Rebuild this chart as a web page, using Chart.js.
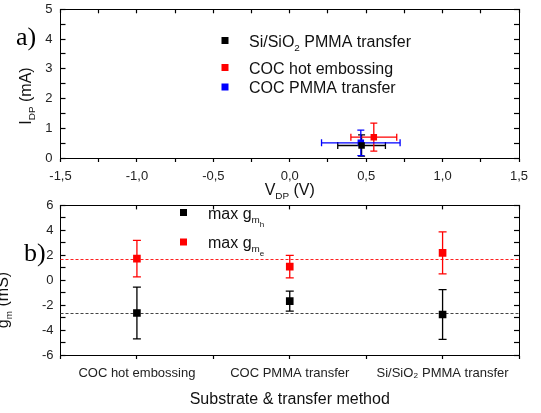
<!DOCTYPE html>
<html>
<head>
<meta charset="utf-8">
<script src="https://cdn.jsdelivr.net/npm/chart.js@4.4.1/dist/chart.umd.min.js"></script>
<style>
  body { margin: 0; background: #fff; width: 541px; height: 413px; overflow: hidden; position: relative; }
  canvas { position: absolute; left: 0; }
  #chartA { top: 0; }
  #chartB { top: 200px; }
</style>
</head>
<body>
<canvas id="chartA" width="541" height="200"></canvas>
<canvas id="chartB" width="541" height="213"></canvas>
<script>
// ---- panel a): Dirac point position ----
const seriesA = ['Si/SiO2 PMMA transfer', 'COC hot embossing', 'COC PMMA transfer'];
const colorsA = ['#000000', '#ff0000', '#0000ff'];
const vdp = [0.47, 0.55, 0.465];      // V
const vdpErr = [0.156, 0.15, 0.257];
const idp = [0.42, 0.70, 0.51];       // mA
const idpErr = [0.36, 0.47, 0.43];
const xTicksA = [-1.5, -1.0, -0.5, 0.0, 0.5, 1.0, 1.5];
const yTicksA = [0, 1, 2, 3, 4, 5];

// ---- panel b): max transconductance per substrate ----
const categories = ['COC hot embossing', 'COC PMMA transfer', 'Si/SiO\u2082 PMMA transfer'];
const gmH = [-2.63, -1.68, -2.75];    // mS (holes)
const gmHErr = [2.07, 0.8, 2.0];
const gmE = [1.73, 1.09, 2.19];       // mS (electrons)
const gmEErr = [1.47, 0.9, 1.68];
const gmMeans = [1.71, -2.67];        // dotted guide lines: e, h
const yTicksB = [-6, -4, -2, 0, 2, 4, 6];

const FONT = '"Liberation Sans", Arial, sans-serif';
const TICK_COLOR = '#222';

/**
 * Draws text made of parts [text, level]; level 1 = subscript, 2 = sub-subscript.
 */
function richText(ctx, parts, x, y, size, align) {
  const scale = [1, 0.62, 0.5];
  const drop = [0, 0.28, 0.5];
  let w = 0;
  parts.forEach(([t, lv]) => {
    ctx.font = `${size * scale[lv]}px ${FONT}`;
    w += ctx.measureText(t).width;
  });
  let cx = align === 'center' ? x - w / 2 : x;
  ctx.textAlign = 'left';
  ctx.textBaseline = 'alphabetic';
  parts.forEach(([t, lv]) => {
    ctx.font = `${size * scale[lv]}px ${FONT}`;
    ctx.fillText(t, cx, y + size * drop[lv]);
    cx += ctx.measureText(t).width;
  });
}

function verticalText(ctx, parts, x, y, size) {
  ctx.save();
  ctx.translate(x, y);
  ctx.rotate(-Math.PI / 2);
  richText(ctx, parts, 0, 0, size, 'center');
  ctx.restore();
}

// tick positions every `step` between min and max (major + minor marks)
function stepTicks(min, max, step) {
  const out = [];
  const n = Math.round((max - min) / step);
  for (let k = 0; k <= n; k++) out.push({ value: Math.round((min + k * step) * 1000) / 1000 });
  return out;
}

const isIn = (list, v) => list.some(t => Math.abs(t - v) < 1e-6);

// x and y error bars with caps, drawn under the markers
const errorBars = {
  id: 'errorBars',
  beforeDatasetsDraw(chart) {
    const { ctx } = chart;
    const sx = chart.scales.x, sy = chart.scales.y;
    chart.data.datasets.forEach((ds, i) => {
      const meta = chart.getDatasetMeta(i);
      const cap = ds.capSize;
      ctx.save();
      ctx.strokeStyle = ds.borderColor;
      ctx.lineWidth = 1.3;
      meta.data.forEach((pt, j) => {
        const raw = ds.data[j];
        ctx.beginPath();
        if (ds.yErr) {
          const y1 = sy.getPixelForValue(raw.y + ds.yErr[j]);
          const y2 = sy.getPixelForValue(raw.y - ds.yErr[j]);
          ctx.moveTo(pt.x, y1); ctx.lineTo(pt.x, y2);
          ctx.moveTo(pt.x - cap, y1); ctx.lineTo(pt.x + cap, y1);
          ctx.moveTo(pt.x - cap, y2); ctx.lineTo(pt.x + cap, y2);
        }
        if (ds.xErr) {
          const x1 = sx.getPixelForValue(raw.x - ds.xErr[j]);
          const x2 = sx.getPixelForValue(raw.x + ds.xErr[j]);
          ctx.moveTo(x1, pt.y); ctx.lineTo(x2, pt.y);
          ctx.moveTo(x1, pt.y - cap); ctx.lineTo(x1, pt.y + cap);
          ctx.moveTo(x2, pt.y - cap); ctx.lineTo(x2, pt.y + cap);
        }
        ctx.stroke();
      });
      ctx.restore();
    });
  }
};

// Axis with a black border and tick marks only (no grid inside the plot).
// tickLength < 0 puts the marks inside the frame.
function frameAxis(position, min, max, ticks, tickLength, extra) {
  return Object.assign({
    type: 'linear', position, min, max,
    axis: (position === 'top' || position === 'bottom') ? 'x' : 'y',
    afterBuildTicks: s => { s.ticks = ticks.map(t => ({ value: t.value })); },
    grid: { display: true, drawOnChartArea: false, drawTicks: true, tickLength, color: '#000', tickColor: '#000', tickWidth: 1.2 },
    border: { display: true, color: '#000', width: 1 }
  }, extra);
}

function hiddenLabels() {
  return { display: false };
}

// ---------------- chart a) ----------------
const xAllA = stepTicks(-1.5, 1.5, 0.25);
const yAllA = stepTicks(0, 5, 0.5);

new Chart(document.getElementById('chartA'), {
  type: 'scatter',
  data: {
    datasets: seriesA.map((name, i) => ({
      label: name,
      data: [{ x: vdp[i], y: idp[i] }],
      xErr: [vdpErr[i]],
      yErr: [idpErr[i]],
      capSize: 3.5,
      pointStyle: 'rect',
      pointRadius: 4.6,
      backgroundColor: colorsA[i],
      borderColor: colorsA[i],
      borderWidth: 0
    }))
  },
  options: {
    responsive: false,
    animation: false,
    events: [],
    layout: { padding: { left: 0, right: 22, top: 0, bottom: 0 } },
    plugins: { legend: { display: false }, tooltip: { enabled: false } },
    scales: {
      x: frameAxis('bottom', -1.5, 1.5, xAllA, 4, {
        afterFit: s => { s.height = 42; },
        ticks: {
          autoSkip: false, maxRotation: 0, padding: 7, color: TICK_COLOR,
          font: { family: FONT, size: 13 },
          callback: v => isIn(xTicksA, v) ? v.toFixed(1).replace('.', ',') : ''
        }
      }),
      y: frameAxis('left', 0, 5, yAllA, -5, {
        afterFit: s => { s.width = 60.5; s.paddingTop = 9.3; s.paddingBottom = 0; },
        ticks: {
          autoSkip: false, padding: 13, color: TICK_COLOR,
          font: { family: FONT, size: 13 },
          callback: v => isIn(yTicksA, v) ? String(v) : ''
        }
      }),
      x2: frameAxis('top', -1.5, 1.5, xAllA, -4, {
        afterFit: s => { s.height = 0; s.paddingLeft = 0; s.paddingRight = 0; },
        ticks: hiddenLabels()
      }),
      y2: frameAxis('right', 0, 5, yAllA, -5, {
        afterFit: s => { s.width = 0; s.paddingTop = 0; s.paddingBottom = 0; },
        ticks: hiddenLabels()
      })
    }
  },
  plugins: [
    errorBars,
    {
      id: 'decorA',
      afterDraw(chart) {
        const { ctx, chartArea: a } = chart;
        ctx.save();
        // legend
        const rows = [40.5, 67.5, 87];
        const labels = [
          [['Si/SiO', 0], ['2', 1], [' PMMA transfer', 0]],
          [['COC hot embossing', 0]],
          [['COC PMMA transfer', 0]]
        ];
        rows.forEach((ry, i) => {
          ctx.fillStyle = colorsA[i];
          ctx.fillRect(221.5, ry - 3.5, 7, 7);
          ctx.fillStyle = '#111';
          richText(ctx, labels[i], 249, ry + 6, 16, 'left');
        });
        // axis titles
        ctx.fillStyle = '#111';
        richText(ctx, [['V', 0], ['DP', 1], [' (V)', 0]], (a.left + a.right) / 2, 195, 16, 'center');
        verticalText(ctx, [['I', 0], ['DP', 1], [' (mA)', 0]], 31, 96, 16);
        // panel letter
        ctx.fillStyle = '#000';
        ctx.font = '26px "Liberation Serif", "Times New Roman", serif';
        ctx.textAlign = 'left';
        ctx.textBaseline = 'alphabetic';
        ctx.fillText('a)', 16, 45);
        ctx.restore();
      }
    }
  ]
});

// ---------------- chart b) ----------------
const xAllB = stepTicks(-0.5, categories.length - 0.5, 0.5);
const yAllB = stepTicks(-6, 6, 1);

new Chart(document.getElementById('chartB'), {
  type: 'scatter',
  data: {
    datasets: [
      {
        label: 'max gm_h',
        data: gmH.map((v, i) => ({ x: i, y: v })),
        yErr: gmHErr,
        capSize: 4,
        pointStyle: 'rect',
        pointRadius: 5.4,
        backgroundColor: '#000000',
        borderColor: '#000000',
        borderWidth: 0
      },
      {
        label: 'max gm_e',
        data: gmE.map((v, i) => ({ x: i, y: v })),
        yErr: gmEErr,
        capSize: 4,
        pointStyle: 'rect',
        pointRadius: 5.4,
        backgroundColor: '#ff0000',
        borderColor: '#ff0000',
        borderWidth: 0
      }
    ]
  },
  options: {
    responsive: false,
    animation: false,
    events: [],
    layout: { padding: { left: 0, right: 22, top: 0, bottom: 0 } },
    plugins: { legend: { display: false }, tooltip: { enabled: false } },
    scales: {
      x: frameAxis('bottom', -0.5, categories.length - 0.5, xAllB, 4, {
        afterFit: s => { s.height = 58; },
        ticks: {
          autoSkip: false, maxRotation: 0, padding: 7, color: TICK_COLOR,
          font: { family: FONT, size: 13 },
          callback: v => Number.isInteger(v) && categories[v] ? categories[v] : ''
        }
      }),
      y: frameAxis('left', -6, 6, yAllB, -5, {
        afterFit: s => { s.width = 60.5; s.paddingTop = 5; s.paddingBottom = 0; },
        ticks: {
          autoSkip: false, padding: 12, color: TICK_COLOR,
          font: { family: FONT, size: 13 },
          callback: v => isIn(yTicksB, v) ? String(v) : ''
        }
      }),
      x2: frameAxis('top', -0.5, categories.length - 0.5, xAllB, -4, {
        afterFit: s => { s.height = 0; s.paddingLeft = 0; s.paddingRight = 0; },
        ticks: hiddenLabels()
      }),
      y2: frameAxis('right', -6, 6, yAllB, -5, {
        afterFit: s => { s.width = 0; s.paddingTop = 0; s.paddingBottom = 0; },
        ticks: hiddenLabels()
      })
    }
  },
  plugins: [
    {
      id: 'meanLines',
      beforeDatasetsDraw(chart) {
        const { ctx, chartArea: a } = chart;
        const sy = chart.scales.y;
        const colors = ['#ff2020', '#444444'];
        ctx.save();
        ctx.lineWidth = 1.2;
        ctx.setLineDash([3, 2]);
        gmMeans.forEach((v, i) => {
          const y = Math.round(sy.getPixelForValue(v)) + 0.5;
          ctx.strokeStyle = colors[i];
          ctx.beginPath();
          ctx.moveTo(a.left, y);
          ctx.lineTo(a.right, y);
          ctx.stroke();
        });
        ctx.restore();
      }
    },
    errorBars,
    {
      id: 'decorB',
      afterDraw(chart) {
        const { ctx, chartArea: a } = chart;
        ctx.save();
        // legend
        const rows = [12.5, 42];
        const cols = ['#000000', '#ff0000'];
        const subs = ['h', 'e'];
        rows.forEach((ry, i) => {
          ctx.fillStyle = cols[i];
          ctx.fillRect(180, ry - 3.5, 7, 7);
          ctx.fillStyle = '#111';
          richText(ctx, [['max g', 0], ['m', 1], [subs[i], 2]], 208, ry + 6, 16, 'left');
        });
        // axis titles
        ctx.fillStyle = '#111';
        richText(ctx, [['Substrate & transfer method', 0]], (a.left + a.right) / 2, 204, 16, 'center');
        verticalText(ctx, [['g', 0], ['m', 1], [' (mS)', 0]], 8, 100, 16);
        // panel letter
        ctx.fillStyle = '#000';
        ctx.font = '26px "Liberation Serif", "Times New Roman", serif';
        ctx.textAlign = 'left';
        ctx.textBaseline = 'alphabetic';
        ctx.fillText('b)', 24, 61);
        ctx.restore();
      }
    }
  ]
});
</script>
</body>
</html>
